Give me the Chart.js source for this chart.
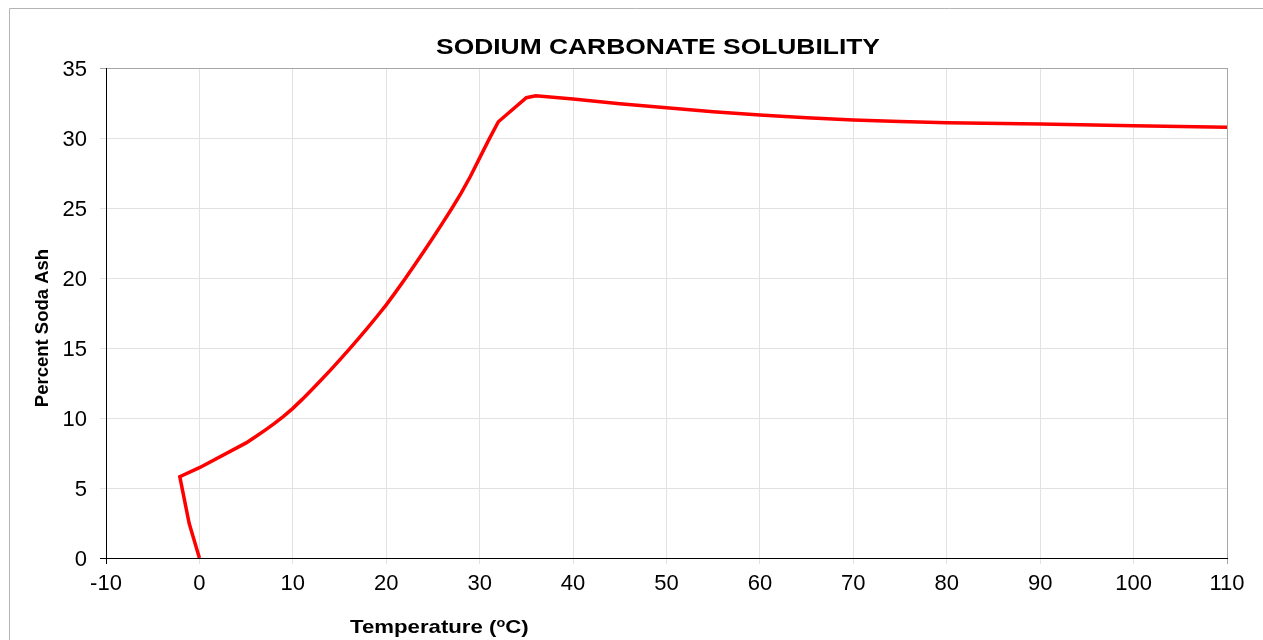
<!DOCTYPE html>
<html>
<head>
<meta charset="utf-8">
<script src="https://cdn.jsdelivr.net/npm/chart.js@4/dist/chart.umd.min.js"></script>
<style>
  html, body { margin: 0; padding: 0; background: #fff; }
  #wrap { position: relative; width: 1263px; height: 640px; }
  canvas { display: block; }
</style>
</head>
<body>
<div id="wrap"><canvas id="c" width="1263" height="640"></canvas></div>
<script>
// ---- data ----
const temperatures = [0, -1.1, -2.1, 0, 5, 6, 7, 8, 9, 10, 11, 12, 13, 14, 15, 16, 17, 18, 19, 20,
  21, 22, 23, 24, 25, 26, 27, 28, 29, 30, 31, 32, 35, 36, 40, 45, 50, 55, 60, 65, 70, 75, 80, 90, 100, 110];
const percentSodaAsh = [0, 2.48, 5.81, 6.45, 8.22, 8.66, 9.12, 9.6, 10.12, 10.69, 11.33, 12.0, 12.69, 13.4, 14.13, 14.88, 15.65, 16.44, 17.25, 18.08,
  18.99, 19.93, 20.9, 21.88, 22.88, 23.9, 24.95, 26.05, 27.25, 28.58, 29.9, 31.16, 32.88, 33.02, 32.79, 32.45, 32.16, 31.88, 31.64, 31.45, 31.29, 31.17, 31.09, 31.0, 30.88, 30.76];
const xTicks = [-10, 0, 10, 20, 30, 40, 50, 60, 70, 80, 90, 100, 110];
const yTicks = [0, 5, 10, 15, 20, 25, 30, 35];
const chartTitle = 'SODIUM CARBONATE SOLUBILITY';
const yTitle = 'Percent Soda Ash';
const xTitleParts = ['Temperature (', 'o', 'C)'];

const points = temperatures.map((t, i) => ({ x: t, y: percentSodaAsh[i] }));
const FONT = '"Liberation Sans", Arial, Helvetica, sans-serif';

const titlesPlugin = {
  id: 'titles',
  beforeDraw(chart) {
    const ctx = chart.ctx;
    ctx.save();
    ctx.strokeStyle = '#b4b4b4';
    ctx.lineWidth = 1;
    ctx.beginPath();
    ctx.moveTo(9.5, 640); ctx.lineTo(9.5, 8.5); ctx.lineTo(1263, 8.5);
    ctx.stroke();
    ctx.restore();
  },
  afterDraw(chart) {
    const ctx = chart.ctx;
    ctx.save();
    ctx.fillStyle = '#000';
    // main title
    ctx.font = 'bold 22px ' + FONT;
    ctx.textBaseline = 'alphabetic';
    ctx.textAlign = 'center';
    ctx.save();
    ctx.translate(658, 54);
    ctx.scale(1.2, 1);
    ctx.fillText(chartTitle, 0, 0);
    ctx.restore();
    // y title
    ctx.save();
    ctx.font = 'bold 18.5px ' + FONT;
    ctx.translate(48, 328);
    ctx.rotate(-Math.PI / 2);
    ctx.textAlign = 'center';
    ctx.fillText(yTitle, 0, 0);
    ctx.restore();
    // x title with superscript o
    ctx.save();
    ctx.translate(350, 633);
    ctx.scale(1.2, 1);
    ctx.textAlign = 'left';
    let x = 0;
    ctx.font = 'bold 18.5px ' + FONT;
    ctx.fillText(xTitleParts[0], x, 0);
    x += ctx.measureText(xTitleParts[0]).width;
    ctx.font = 'bold 12px ' + FONT;
    ctx.fillText(xTitleParts[1], x, -6);
    x += ctx.measureText(xTitleParts[1]).width;
    ctx.font = 'bold 18.5px ' + FONT;
    ctx.fillText(xTitleParts[2], x, 0);
    ctx.restore();
    ctx.restore();
  }
};

new Chart(document.getElementById('c'), {
  type: 'line',
  data: {
    datasets: [{
      data: points,
      borderColor: '#ff0000',
      borderWidth: 3.5,
      pointRadius: 0,
      tension: 0,
      fill: false
    }]
  },
  options: {
    responsive: false,
    animation: false,
    layout: { padding: { left: 0, right: 36, top: 68, bottom: 42 } },
    plugins: { legend: { display: false }, title: { display: false }, tooltip: { enabled: false } },
    scales: {
      x: {
        type: 'linear',
        min: -10, max: 110,
        afterBuildTicks: (s) => { s.ticks = xTicks.map(v => ({ value: v })); },
        afterFit: (s) => { s.height = 40; },
        ticks: { color: '#000', font: { family: FONT, size: 22 }, padding: 7, maxRotation: 0 },
        grid: {
          color: (c) => c.tick && c.tick.value === -10 ? '#000' : (c.tick && c.tick.value === 110 ? '#a6a6a6' : '#e2e2e2'),
          tickLength: 6, drawTicks: true
        },
        border: { display: true, color: '#000', width: 1 }
      },
      y: {
        type: 'linear',
        min: 0, max: 35,
        afterBuildTicks: (s) => { s.ticks = yTicks.map(v => ({ value: v })); },
        afterFit: (s) => { s.width = 106; },
        ticks: { color: '#000', font: { family: FONT, size: 22 }, padding: 13, labelOffset: 2 },
        grid: {
          color: (c) => c.tick && c.tick.value === 0 ? '#000' : (c.tick && c.tick.value === 35 ? '#a6a6a6' : '#e2e2e2'),
          tickLength: 6, drawTicks: true
        },
        border: { display: true, color: '#000', width: 1 }
      }
    }
  },
  plugins: [titlesPlugin]
});
</script>
</body>
</html>
